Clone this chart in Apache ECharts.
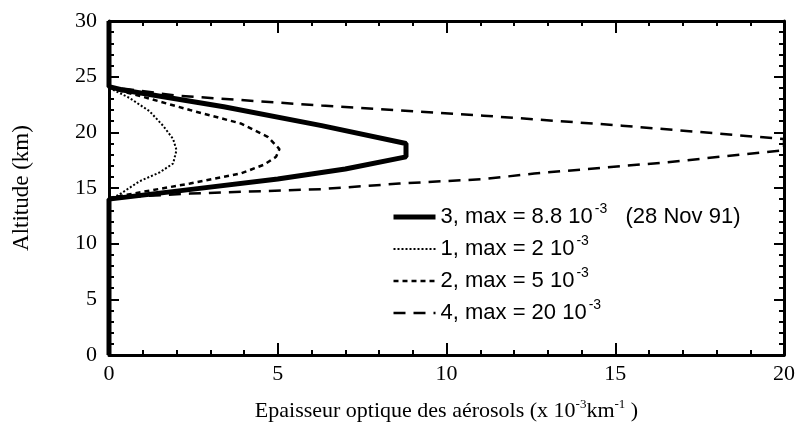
<!DOCTYPE html>
<html>
<head>
<meta charset="utf-8">
<script src="https://cdn.jsdelivr.net/npm/echarts@6/dist/echarts.min.js"></script>
<style>html,body{margin:0;padding:0;background:#fff}#c{width:798px;height:432px}</style>
</head>
<body>
<div id="c"></div>
<script>
// Data: [optical thickness (x1e-3 km^-1), altitude (km)]
const curve3 = [[0,0],[0,14],[2.5,14.9],[5,15.8],[7,16.7],[8.8,17.8],[8.8,19.0],[6.3,20.6],[3.4,22.3],[0.4,23.8],[0,24.1],[0,30]];
const curve1 = [[0,14],[0.3,14.4],[0.9,15.6],[1.5,16.4],[1.9,17.2],[2.0,18.4],[1.9,19.4],[1.6,20.6],[1.2,21.9],[0.6,23.1],[0,24]];
const curve2 = [[0,14.1],[0.9,14.6],[2.4,15.4],[3.9,16.3],[4.6,17.1],[4.95,17.8],[5.05,18.5],[4.7,19.6],[3.9,20.8],[2.4,22.0],[1.0,23.2],[0,24]];
const curve4 = [[0,14.1],[2.4,14.5],[6.3,14.9],[8.6,15.4],[11.1,15.8],[12.6,16.3],[16.5,17.3],[20,18.4],[20,19.4],[15.2,20.6],[11.1,21.5],[6.3,22.4],[2,23.3],[0,24.1]];
const seriesNames = ['3', '1', '2', '4'];
const legendMax = {'3': '8.8', '1': '2', '2': '5', '4': '20'};
const xTicks = [0, 5, 10, 15, 20];
const yTicks = [0, 5, 10, 15, 20, 25, 30];

const chart = echarts.init(document.getElementById('c'));
const serif = 'Liberation Serif';
const sans = 'Liberation Sans';
const axisCommon = {
  type: 'value',
  axisLine: {show: true, onZero: false, lineStyle: {color: '#000', width: 3}},
  axisTick: {show: true, inside: true, lineStyle: {color: '#000', width: 2}},
  minorTick: {show: true, splitNumber: 5, lineStyle: {color: '#000', width: 2}},
  splitLine: {show: false}
};
const styles = {
  '3': {color: '#000', width: 5, type: 'solid'},
  '1': {color: '#000', width: 2, type: [2, 2]},
  '2': {color: '#000', width: 2.5, type: [5, 4]},
  '4': {color: '#000', width: 2.5, type: [12, 8]}
};
chart.setOption({
  animation: false,
  backgroundColor: '#fff',
  color: ['#000'],
  grid: {left: 109, right: 10, top: 21, bottom: 77},
  xAxis: [
    Object.assign({}, axisCommon, {
      min: xTicks[0], max: xTicks[xTicks.length - 1], interval: 5, position: 'bottom',
      axisTick: Object.assign({}, axisCommon.axisTick, {length: 12}),
      minorTick: Object.assign({}, axisCommon.minorTick, {length: 5}),
      axisLabel: {color: '#000', fontFamily: serif, fontSize: 22, margin: 8},
      name: '{t|Epaisseur optique des aérosols (x 10}{s|-3}{t|km}{s|-1}{t| )}',
      nameLocation: 'middle', nameGap: 43,
      nameTextStyle: {rich: {
        t: {fontFamily: serif, fontSize: 22, color: '#000', lineHeight: 26},
        s: {fontFamily: serif, fontSize: 13, color: '#000', lineHeight: 26, padding: [0, 0, 12, 0]}
      }}
    }),
    Object.assign({}, axisCommon, {
      min: xTicks[0], max: xTicks[xTicks.length - 1], interval: 5, position: 'top',
      axisTick: Object.assign({}, axisCommon.axisTick, {length: 12}),
      minorTick: Object.assign({}, axisCommon.minorTick, {length: 5}),
      axisLabel: {show: false}
    })
  ],
  yAxis: [
    Object.assign({}, axisCommon, {
      min: yTicks[0], max: yTicks[yTicks.length - 1], interval: 5, position: 'left',
      axisTick: Object.assign({}, axisCommon.axisTick, {length: 10}),
      minorTick: Object.assign({}, axisCommon.minorTick, {length: 5}),
      axisLabel: {color: '#000', fontFamily: serif, fontSize: 22, margin: 12},
      name: 'Altitude (km)', nameLocation: 'middle', nameGap: 76, nameRotate: 90,
      nameTextStyle: {fontFamily: serif, fontSize: 23, color: '#000'}
    }),
    Object.assign({}, axisCommon, {
      min: yTicks[0], max: yTicks[yTicks.length - 1], interval: 5, position: 'right',
      axisTick: Object.assign({}, axisCommon.axisTick, {length: 10}),
      minorTick: Object.assign({}, axisCommon.minorTick, {length: 5}),
      axisLabel: {show: false}
    })
  ],
  legend: {
    orient: 'vertical', left: 386, top: 197,
    itemWidth: 42, itemHeight: 14, itemGap: 2,
    itemStyle: {opacity: 0},
    data: seriesNames.map(n => ({name: n, lineStyle: styles[n], itemStyle: {opacity: 0}})),
    formatter: function (n) {
      let s = '{a|' + n + ', max = ' + legendMax[n] + ' 10}{s|-3}';
      if (n === '3') s += '{a|   (28 Nov 91)}';
      return s;
    },
    textStyle: {rich: {
      a: {fontFamily: sans, fontSize: 22, color: '#000', lineHeight: 26},
      s: {fontFamily: sans, fontSize: 14, color: '#000', lineHeight: 26, padding: [0, 0, 16, 2]}
    }}
  },
  series: seriesNames.map(function (n) {
    const data = {'3': curve3, '1': curve1, '2': curve2, '4': curve4}[n];
    return {name: n, type: 'line', data: data, symbol: 'none', clip: n !== '3',
            z: n === '3' ? 5 : 3, itemStyle: {color: '#000'}, lineStyle: styles[n]};
  })
});
</script>
</body>
</html>
